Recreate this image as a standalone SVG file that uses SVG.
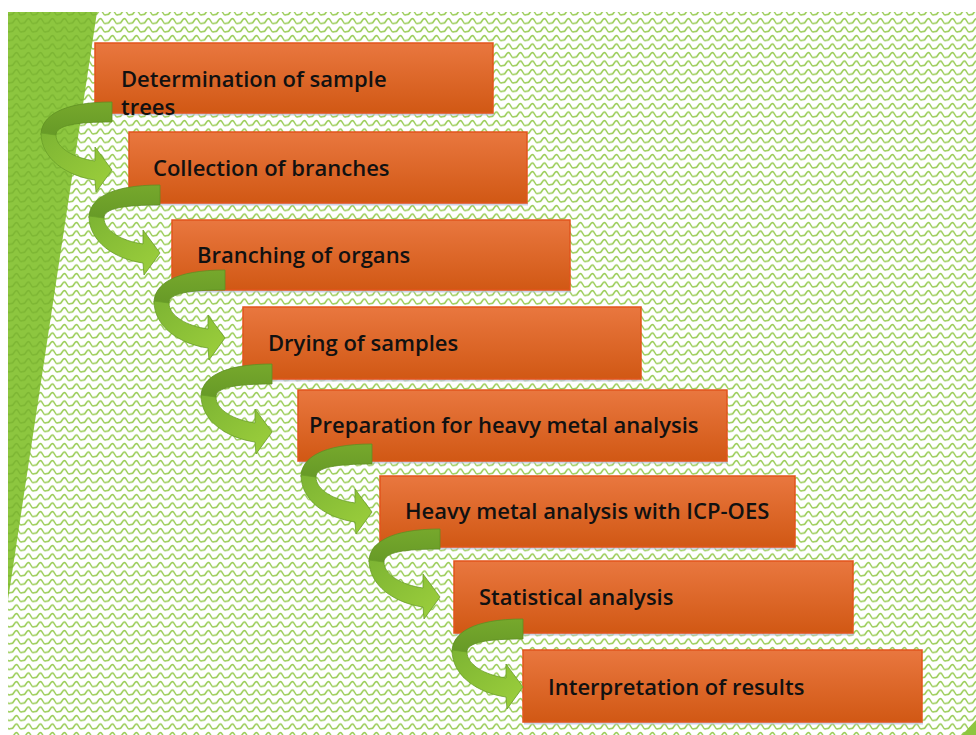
<svg xmlns="http://www.w3.org/2000/svg" width="976" height="735" viewBox="0 0 976 735">
<defs>
<pattern id="wave" x="0" y="0" width="12" height="8.5" patternUnits="userSpaceOnUse">
<path d="M0,6 C1.5,6 2.5,1.5 4.5,1.5 C6.5,1.5 7,6.5 9,6.5 C10.5,6.5 11,6 12,6" fill="none" stroke="#8cc63f" stroke-width="1.5" stroke-opacity="0.9"/>
</pattern>
<pattern id="wave2" x="0" y="0" width="12" height="8.5" patternUnits="userSpaceOnUse">
<rect width="12" height="8.5" fill="#8dc63f"/>
<path d="M0,6 C1.5,6 2.5,1.5 4.5,1.5 C6.5,1.5 7,6.5 9,6.5 C10.5,6.5 11,6 12,6" fill="none" stroke="#7db633" stroke-width="1.5"/>
</pattern>
<linearGradient id="boxg" x1="0" y1="0" x2="0" y2="1">
<stop offset="0" stop-color="#e9773f"/>
<stop offset="1" stop-color="#d15814"/>
</linearGradient>
<linearGradient id="lightg" x1="0" y1="0" x2="1" y2="1">
<stop offset="0" stop-color="#7db433"/>
<stop offset="1" stop-color="#9dd03c"/>
</linearGradient>
<linearGradient id="darkg" x1="0" y1="0" x2="0" y2="1">
<stop offset="0" stop-color="#76a82c"/>
<stop offset="1" stop-color="#679a27"/>
</linearGradient>
<g id="curl">
<path d="M0,-68 C-50,-68 -71,-54 -71,-35 L-56,-35 C-56,-45 -35,-48 0,-48 Z" fill="url(#darkg)" stroke="#5f8f22" stroke-width="0.8"/>
<path d="M-71,-37 C-71,-11 -45,6 -17,10 L-16,22 L0,0 L-17,-23 L-17,-9 C-38,-12 -56,-22 -56,-35 Z" fill="url(#lightg)" stroke="#6a9e28" stroke-width="0.8"/>
</g>
</defs>
<style>
.box rect.b { fill: url(#boxg); stroke: #e2541c; stroke-width: 1.5; }
.box rect.s { fill: #b9c0dc; opacity: 0.7; }
.box text { font-family: "Open Sans", "DejaVu Sans", sans-serif; font-size: 22px; font-weight: 600; fill: #111; }
</style>
<rect width="976" height="735" fill="#ffffff"/>
<rect x="8" y="12" width="968" height="723" fill="url(#wave)"/>
<polygon points="8,12 97,12 8,600" fill="url(#wave2)"/>
<polygon points="976,720 976,735 962,735" fill="#8dc63f"/>

<g id="node1" class="box"><rect class="s" x="96" y="113" width="398" height="2.5"/><rect class="b" x="95" y="43" width="398" height="70"/><text x="121" y="87">Determination of sample</text><text x="121" y="115">trees</text></g>
<g id="node2" class="box"><rect class="s" x="130" y="203" width="398" height="2.5"/><rect class="b" x="129" y="132" width="398" height="71"/><text x="153" y="176">Collection of branches</text></g>
<g id="node3" class="box"><rect class="s" x="173" y="290" width="398" height="2.5"/><rect class="b" x="172" y="220" width="398" height="70"/><text x="197" y="263">Branching of organs</text></g>
<g id="node4" class="box"><rect class="s" x="244" y="379" width="398" height="2.5"/><rect class="b" x="243" y="307" width="398" height="72"/><text x="268" y="351">Drying of samples</text></g>
<g id="node5" class="box"><rect class="s" x="299" y="461" width="429" height="2.5"/><rect class="b" x="298" y="390" width="429" height="71"/><text x="309" y="433">Preparation for heavy metal analysis</text></g>
<g id="node6" class="box"><rect class="s" x="381" y="547" width="415" height="2.5"/><rect class="b" x="380" y="476" width="415" height="71"/><text x="405" y="519">Heavy metal analysis with ICP-OES</text></g>
<g id="node7" class="box"><rect class="s" x="455" y="633" width="399" height="2.5"/><rect class="b" x="454" y="561" width="399" height="72"/><text x="479" y="605">Statistical analysis</text></g>
<g id="node8" class="box"><rect class="s" x="524" y="722" width="399" height="2.5"/><rect class="b" x="523" y="650" width="399" height="72"/><text x="548" y="695">Interpretation of results</text></g>

<g id="connectors">
<use href="#curl" transform="translate(112,170)"/>
<use href="#curl" transform="translate(160,253)"/>
<use href="#curl" transform="translate(225,338)"/>
<use href="#curl" transform="translate(272,432)"/>
<use href="#curl" transform="translate(372,512)"/>
<use href="#curl" transform="translate(440,597)"/>
<use href="#curl" transform="translate(523,687)"/>
</g>
</svg>
